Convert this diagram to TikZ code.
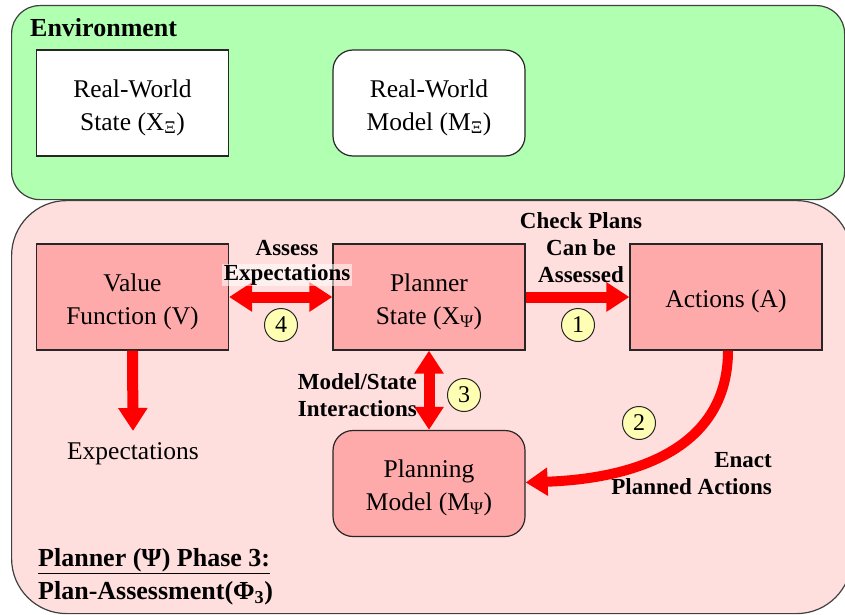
\documentclass[tikz,border=0pt]{standalone}
\usepackage{fontspec}
\setmainfont{Liberation Serif}
\usetikzlibrary{arrows.meta}
\definecolor{envgreen}{HTML}{B1FFB1}
\definecolor{pinkbg}{HTML}{FFDEDE}
\definecolor{boxpink}{HTML}{FFAAAA}
\definecolor{circyellow}{HTML}{FFFFB3}
\definecolor{edgegray}{HTML}{404040}
\definecolor{arrred}{HTML}{FF0000}
\newcommand{\boxtext}[1]{\raisebox{0pt}[\dimexpr\height+8pt\relax][\depth]{\begin{tabular}{@{}c@{}}#1\end{tabular}}}
\begin{document}
\begin{tikzpicture}[x=1pt,y=-1pt,
  region/.style={draw=edgegray, line width=1.2pt, anchor=north west, inner sep=0pt},
  box/.style={draw=black!85, line width=1.2pt, minimum width=192pt, minimum height=106pt,
    align=center, inner sep=0pt, font=\fontsize{25.5}{33}\selectfont},
  numcirc/.style={circle, draw=black!85, line width=1pt, fill=circyellow, minimum size=33pt,
    inner sep=0pt, font=\fontsize{24}{24}\selectfont},
  lbl/.style={font=\bfseries\fontsize{23}{27}\selectfont, inner sep=0pt},
  bigarrow/.style={draw=arrred, line width=11pt, -{Triangle[length=23pt,width=28pt]}},
  dblarrow/.style={draw=arrred, line width=11pt, {Triangle[length=23pt,width=28pt]}-{Triangle[length=23pt,width=28pt]}},
]
\useasboundingbox (0,0) rectangle (845,615);
% regions
\node[region, fill=envgreen, rounded corners=28pt, minimum width=833pt, minimum height=194pt] (env) at (11,5) {};
\node[region, fill=pinkbg, rounded corners=55pt, minimum width=840pt, minimum height=413pt] (planner) at (11,200) {};
\node[anchor=west, inner sep=0pt, font=\bfseries\fontsize{26}{30}\selectfont] (envtitle) at (30,28) {Environment};
% environment boxes
\node[box, fill=white] (rws) at (132.5,103) {\boxtext{Real-World\\State (X\textsubscript{Ξ})}};
\node[box, fill=white, rounded corners=20pt] (rwm) at (429,103) {\boxtext{Real-World\\Model (M\textsubscript{Ξ})}};
% planner boxes
\node[box, fill=boxpink] (vf) at (132.5,297) {\boxtext{Value\\Function (V)}};
\node[box, fill=boxpink] (ps) at (429,297) {\boxtext{Planner\\State (X\textsubscript{Ψ})}};
\node[box, fill=boxpink] (act) at (726,297) {\boxtext{Actions (A)}};
\node[box, fill=boxpink, rounded corners=20pt] (pm) at (429,483.5) {\boxtext{Planning\\Model (M\textsubscript{Ψ})}};
\node[inner sep=0pt, font=\fontsize{25.5}{33}\selectfont] (expect) at (133,454) {Expectations};
\coordinate (expin) at (133,431);
% arrows
\draw[dblarrow] (vf.east) -- (ps.west);
\draw[bigarrow] (ps.east) -- (act.west);
\draw[dblarrow] (ps.south) -- (pm.north);
\draw[bigarrow] (vf.south) -- (expin);
\draw[draw=arrred, line width=10pt, -{Triangle[length=22pt,width=27pt]}]
  ([xshift=2pt]act.south) .. controls (728,440) and (650,478) .. ([yshift=1pt]pm.east);
% numbered circles
\node[numcirc] (c4) at (281,325) {4};
\node[numcirc] (c1) at (578,325) {1};
\node[numcirc] (c3) at (464,395) {3};
\node[numcirc] (c2) at (639,423) {2};
% labels
\node[lbl] (assess) at (287,248) {Assess};
\node[lbl, fill=white, fill opacity=0.55, text opacity=1, inner xsep=2pt, inner ysep=1pt] (expl) at (287,275) {Expectations};
\node[lbl, align=center] (check) at (581,248) {Check Plans\\Can be\\Assessed};
\node[lbl, align=right, anchor=east] (msi) at (417,395) {Model/State\\Interactions};
\node[lbl, align=right, anchor=east] (enact) at (772,474) {Enact\\Planned Actions};
\node[anchor=west, inner sep=0pt, align=left, font=\bfseries\fontsize{26}{33}\selectfont] (phase) at (38,577)
  {\underline{Planner (Ψ) Phase 3:}\\Plan-Assessment(Φ\textsubscript{3})};
\end{tikzpicture}
\end{document}
